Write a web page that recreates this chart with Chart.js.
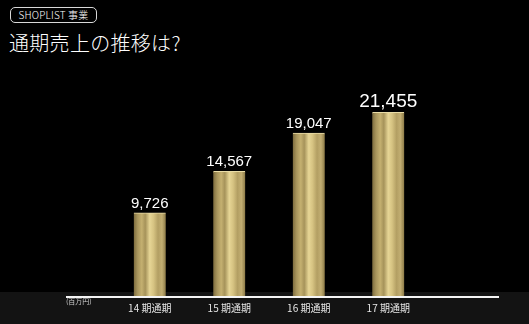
<!DOCTYPE html>
<html lang="ja">
<head>
<meta charset="utf-8">
<script src="https://cdn.jsdelivr.net/npm/chart.js@4/dist/chart.umd.min.js"></script>
<style>
    html, body { margin: 0; padding: 0; }
    body {
        width: 529px; height: 324px; overflow: hidden; position: relative;
        background: linear-gradient(to bottom, #000 0px, #000 292px, #131313 292px, #131313 324px);
        font-family: "Noto Sans CJK JP", "Noto Sans", sans-serif;
        color: #fff;
    }
    #badge {
        position: absolute; left: 10px; top: 7px; height: 14px; width: 85px;
        border: 1px solid #d8d8d8; border-radius: 5px;
        font-size: 10px; line-height: 14px; text-align: center; letter-spacing: 0.2px;
        font-weight: 300;
    }
    #titre {
        position: absolute; left: 9px; top: 29px;
        font-size: 20px; line-height: 28px; letter-spacing: 0.3px;
        font-weight: 300;
    }
    canvas { position: absolute; left: 0; top: 0; }
</style>
</head>
<body>
<div id="badge">SHOPLIST 事業</div>
<div id="titre">通期売上の推移は?</div>
<canvas id="canvasVentes" width="529" height="324"></canvas>
<script>
// données (millions de yens)
const periodes = ["14 期通期", "15 期通期", "16 期通期", "17 期通期"]
const ventes = [9726, 14567, 19047, 21455]
const etiquettesVentes = ["9,726", "14,567", "19,047", "21,455"]
const taillesEtiquettes = [15, 15, 15, 19]
const uniteTexte = "(百万円)"

const largeurBarre = 32

// dégradé doré horizontal, calculé pour chaque barre
function degradeOr(ctx) {
    let chart = ctx.chart
    let echelleX = chart.scales.x
    if (!echelleX || ctx.dataIndex === undefined) {
        return "#c8b474"
    }
    let cx = echelleX.getPixelForValue(ctx.dataIndex)
    if (!isFinite(cx)) {
        return "#c8b474"
    }
    let g = chart.ctx.createLinearGradient(cx - largeurBarre / 2, 0, cx + largeurBarre / 2, 0)
    g.addColorStop(0, "#7d6c3e")
    g.addColorStop(0.12, "#a8955c")
    g.addColorStop(0.25, "#c4b070")
    g.addColorStop(0.36, "#a6935a")
    g.addColorStop(0.5, "#e6d595")
    g.addColorStop(0.62, "#d6c382")
    g.addColorStop(0.76, "#b39f63")
    g.addColorStop(0.88, "#c2ae72")
    g.addColorStop(1, "#8c7a47")
    return g
}

// valeurs au dessus des barres + ligne d'axe + unité
const pluginEtiquettes = {
    id: "etiquettes",
    afterDatasetsDraw(chart) {
        let ctx = chart.ctx
        let meta = chart.getDatasetMeta(0)
        ctx.save()
        ctx.fillStyle = "#ffffff"
        ctx.textAlign = "center"
        ctx.textBaseline = "alphabetic"
        meta.data.forEach((barre, i) => {
            ctx.font = taillesEtiquettes[i] + "px 'Liberation Sans', Arial, sans-serif"
            ctx.fillText(etiquettesVentes[i], barre.x, barre.y - 5)
        })
        // ligne de l'axe
        let area = chart.chartArea
        ctx.strokeStyle = "#f4f4f4"
        ctx.lineWidth = 2
        ctx.beginPath()
        ctx.moveTo(area.left - 44, area.bottom + 1)
        ctx.lineTo(area.right + 71, area.bottom + 1)
        ctx.stroke()
        // unité
        ctx.font = "7px 'Noto Sans CJK JP', sans-serif"
        ctx.fillStyle = "#d0d0d0"
        ctx.textAlign = "left"
        ctx.fillText(uniteTexte, area.left - 44, area.bottom + 8)
        ctx.restore()
    }
}

let canvas = document.getElementById("canvasVentes")
new Chart(canvas, {
    type: "bar",
    data: {
        labels: periodes,
        datasets: [{
            label: "売上",
            data: ventes,
            backgroundColor: degradeOr,
            borderColor: "#e9dca6",
            borderWidth: { top: 1, left: 0, right: 0, bottom: 0 },
            borderSkipped: "bottom",
            barThickness: largeurBarre
        }]
    },
    options: {
        responsive: false,
        devicePixelRatio: 1,
        animation: false,
        layout: {
            padding: { top: 82, left: 110, right: 101, bottom: 4 }
        },
        scales: {
            y: {
                display: false,
                min: 0,
                max: 25000
            },
            x: {
                grid: { display: false, drawTicks: false },
                border: { display: false },
                ticks: {
                    color: "#e6e6e6",
                    padding: 6,
                    font: { size: 10, family: "'Noto Sans CJK JP', sans-serif" }
                }
            }
        },
        plugins: {
            legend: { display: false },
            tooltip: { enabled: false }
        }
    },
    plugins: [pluginEtiquettes]
})
</script>
</body>
</html>
